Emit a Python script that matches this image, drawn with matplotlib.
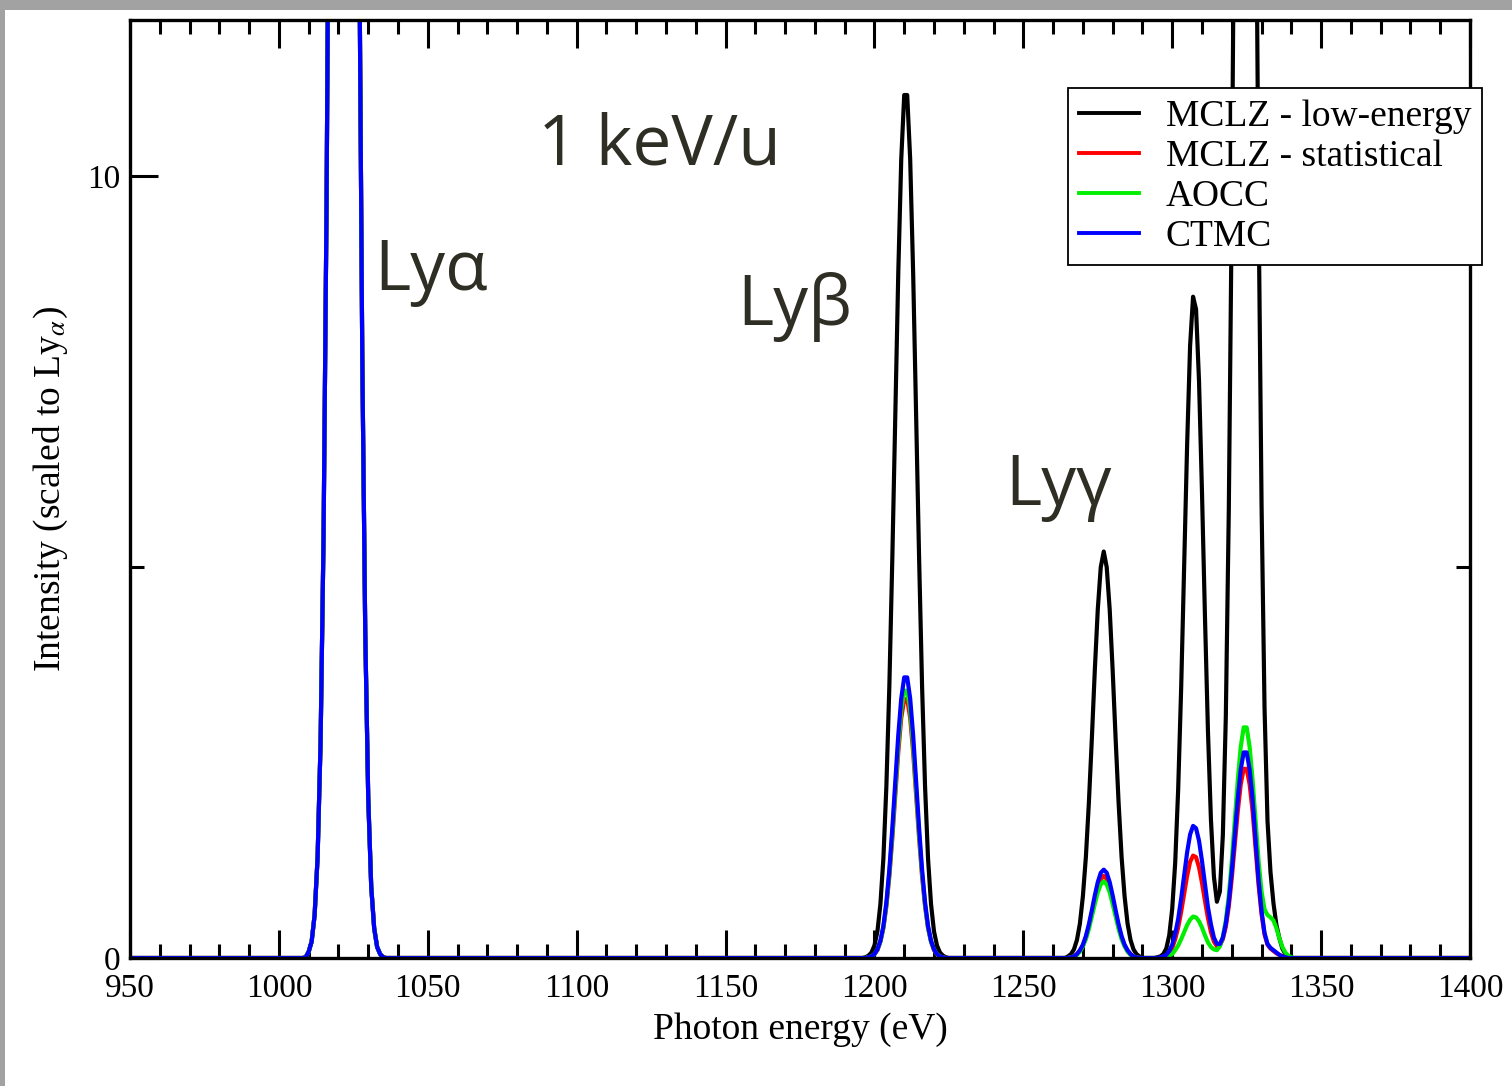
import numpy as np
import matplotlib
matplotlib.use("Agg")
import matplotlib.pyplot as plt
from matplotlib.patches import Rectangle
from matplotlib.ticker import MultipleLocator

plt.rcParams['font.family'] = ['Liberation Serif', 'DejaVu Serif']
plt.rcParams['mathtext.fontset'] = 'stix'

# photon energy grid (eV) for each spectral window
e_lya = list(range(1008, 1037))
e_lyb = list(range(1196, 1226))
e_lyg = list(range(1264, 1291))
e_hi = list(range(1294, 1343))
energy = [950] + e_lya + e_lyb + e_lyg + e_hi + [1400]

# Ly-alpha line, identical for all models (scaled to it)
lya = [0.0, 0.01, 0.08, 0.21, 0.55, 1.29, 2.76, 5.39, 9.60, 15.6, 23.2, 31.4,
       38.8, 43.7, 44.9, 42.1, 36.0, 28.1, 20.0, 13.0, 7.70, 4.17, 2.05, 0.92,
       0.38, 0.14, 0.05, 0.01, 0.0]

# MCLZ - low-energy
black_lyb = [0.0, 0.01, 0.03, 0.07, 0.16, 0.34, 0.69, 1.27, 2.19, 3.47, 5.11, 6.95,
             8.76, 10.22, 11.04, 11.04, 10.22, 8.76, 6.95, 5.11, 3.47, 2.19, 1.27,
             0.69, 0.34, 0.16, 0.07, 0.03, 0.01, 0.0]
black_lyg = [0.0, 0.02, 0.05, 0.11, 0.23, 0.44, 0.79, 1.29, 1.98, 2.80, 3.68, 4.46,
             5.00, 5.20, 5.00, 4.46, 3.68, 2.80, 1.98, 1.29, 0.79, 0.44, 0.23, 0.11,
             0.05, 0.02, 0.0]
black_hi = [0.0, 0.01, 0.02, 0.05, 0.12, 0.29, 0.63, 1.22, 2.16, 3.45, 5.00, 6.56,
            7.83, 8.46, 8.30, 7.38, 5.95, 4.36, 2.90, 1.77, 1.04, 0.72, 0.85, 1.57,
            3.09, 5.73, 9.62, 14.6, 19.9, 24.6, 27.2, 27.2, 24.6, 19.9, 14.6, 9.62,
            5.80, 3.20, 1.75, 1.10, 0.70, 0.42, 0.25, 0.12, 0.05, 0.02, 0.0, 0.0, 0.0]

# MCLZ - statistical
red_lyb = [0.0, 0.0, 0.01, 0.02, 0.05, 0.10, 0.21, 0.38, 0.66, 1.04, 1.53, 2.09,
           2.63, 3.07, 3.31, 3.31, 3.07, 2.63, 2.09, 1.53, 1.04, 0.66, 0.38, 0.21,
           0.10, 0.05, 0.02, 0.01, 0.0, 0.0]
red_lyg = [0.0, 0.0, 0.01, 0.02, 0.05, 0.09, 0.16, 0.26, 0.40, 0.57, 0.74, 0.90,
           1.01, 1.05, 1.01, 0.90, 0.74, 0.57, 0.40, 0.26, 0.16, 0.09, 0.05, 0.02,
           0.01, 0.0, 0.0]
red_hi = [0.0, 0.0, 0.0, 0.01, 0.03, 0.07, 0.13, 0.24, 0.39, 0.59, 0.82, 1.05,
          1.23, 1.31, 1.29, 1.16, 0.96, 0.73, 0.51, 0.33, 0.21, 0.15, 0.16, 0.24,
          0.40, 0.66, 1.02, 1.44, 1.87, 2.22, 2.42, 2.42, 2.22, 1.87, 1.40, 0.93,
          0.56, 0.30, 0.17, 0.12, 0.09, 0.06, 0.04, 0.02, 0.01, 0.0, 0.0, 0.0, 0.0]

# AOCC
green_lyb = [0.0, 0.0, 0.01, 0.02, 0.05, 0.11, 0.21, 0.39, 0.68, 1.08, 1.58, 2.15,
             2.72, 3.17, 3.42, 3.42, 3.17, 2.72, 2.15, 1.58, 1.08, 0.68, 0.39, 0.21,
             0.11, 0.05, 0.02, 0.01, 0.0, 0.0]
green_lyg = [0.0, 0.0, 0.01, 0.02, 0.04, 0.08, 0.15, 0.24, 0.37, 0.53, 0.69, 0.84,
             0.94, 0.98, 0.94, 0.84, 0.69, 0.53, 0.37, 0.24, 0.15, 0.08, 0.04, 0.02,
             0.01, 0.0, 0.0]
green_hi = [0.0, 0.0, 0.0, 0.0, 0.01, 0.03, 0.05, 0.10, 0.16, 0.24, 0.33, 0.42,
            0.49, 0.53, 0.52, 0.47, 0.39, 0.29, 0.20, 0.14, 0.11, 0.10, 0.15, 0.27,
            0.48, 0.80, 1.24, 1.76, 2.27, 2.70, 2.95, 2.95, 2.70, 2.27, 1.76, 1.24,
            0.85, 0.62, 0.55, 0.52, 0.48, 0.38, 0.25, 0.14, 0.07, 0.03, 0.01, 0.0, 0.0]

# CTMC
blue_lyb = [0.0, 0.0, 0.01, 0.02, 0.05, 0.11, 0.22, 0.41, 0.71, 1.13, 1.66, 2.26,
            2.85, 3.32, 3.59, 3.59, 3.32, 2.85, 2.26, 1.66, 1.13, 0.71, 0.41, 0.22,
            0.11, 0.05, 0.02, 0.01, 0.0, 0.0]
blue_lyg = [0.0, 0.0, 0.01, 0.02, 0.05, 0.10, 0.17, 0.28, 0.43, 0.61, 0.80, 0.97,
            1.09, 1.13, 1.09, 0.97, 0.80, 0.61, 0.43, 0.28, 0.17, 0.10, 0.05, 0.02,
            0.01, 0.0, 0.0]
blue_hi = [0.0, 0.0, 0.01, 0.02, 0.04, 0.09, 0.17, 0.31, 0.50, 0.76, 1.06, 1.35,
           1.58, 1.69, 1.66, 1.50, 1.24, 0.94, 0.65, 0.43, 0.26, 0.18, 0.18, 0.26,
           0.44, 0.72, 1.11, 1.57, 2.03, 2.41, 2.63, 2.63, 2.41, 2.03, 1.50, 1.00,
           0.60, 0.32, 0.18, 0.13, 0.10, 0.07, 0.04, 0.02, 0.01, 0.0, 0.0, 0.0, 0.0]

labels = ["MCLZ - low-energy", "MCLZ - statistical", "AOCC", "CTMC"]
colors = ["#000000", "#ff0000", "#00ee00", "#0000ff"]
series = [
    [0.0] + lya + black_lyb + black_lyg + black_hi + [0.0],
    [0.0] + lya + red_lyb + red_lyg + red_hi + [0.0],
    [0.0] + lya + green_lyb + green_lyg + green_hi + [0.0],
    [0.0] + lya + blue_lyb + blue_lyg + blue_hi + [0.0],
]

W, H = 1512, 1086
fig = plt.figure(figsize=(W / 100, H / 100), dpi=100)
fig.patch.set_facecolor("#a2a2a2")
fig.add_artist(Rectangle((5 / W, 0), 1, (H - 10) / H, transform=fig.transFigure,
                         facecolor="white", edgecolor="none", zorder=0))

ax = fig.add_axes([130 / W, 128 / H, 1340 / W, 938 / H])
for lab, col, y in zip(labels, colors, series):
    ax.plot(energy, y, color=col, lw=3.0, label=lab)

ax.set_xlim(950, 1400)
ax.set_ylim(0, 12)
ax.xaxis.set_major_locator(MultipleLocator(50))
ax.xaxis.set_minor_locator(MultipleLocator(10))
ax.yaxis.set_major_locator(MultipleLocator(10))
ax.yaxis.set_minor_locator(MultipleLocator(5))
ax.tick_params(which="both", direction="in", top=True, right=True, width=2.2,
               labelsize=24)
ax.tick_params(which="major", length=20)
ax.tick_params(which="minor", length=10)
ax.tick_params(axis="x", pad=11)
ax.tick_params(axis="y", pad=7)
for sp in ax.spines.values():
    sp.set_linewidth(2.4)
    sp.set_zorder(3)

ax.set_xlabel("Photon energy (eV)", fontsize=27, labelpad=6)
ax.set_ylabel(r"Intensity (scaled to Ly$_{\alpha}$)", fontsize=27, labelpad=12)

leg = ax.legend(loc="upper left", bbox_to_anchor=(1068 / W, 1 - 88 / H),
                bbox_transform=fig.transFigure, fontsize=27, frameon=True,
                fancybox=False, framealpha=1, edgecolor="black",
                handlelength=1.6, handletextpad=0.7, labelspacing=0.15,
                borderpad=0.3, borderaxespad=0)
leg.get_frame().set_linewidth(1.3)
leg.set_zorder(5)
for ln in leg.get_lines():
    ln.set_linewidth(2.8)

ann = dict(fontsize=50, color="#2e2e24", family=["Open Sans", "DejaVu Sans"],
           ha="left", va="baseline")
ax.text(1087, 10.15, "1 keV/u", **ann)
ax.text(1032, 8.55, "Lyα", **ann)
ax.text(1154, 8.1, "Lyβ", **ann)
ax.text(1244, 5.8, "Lyγ", **ann)

fig.savefig("out.png", dpi=100, facecolor=fig.get_facecolor())
